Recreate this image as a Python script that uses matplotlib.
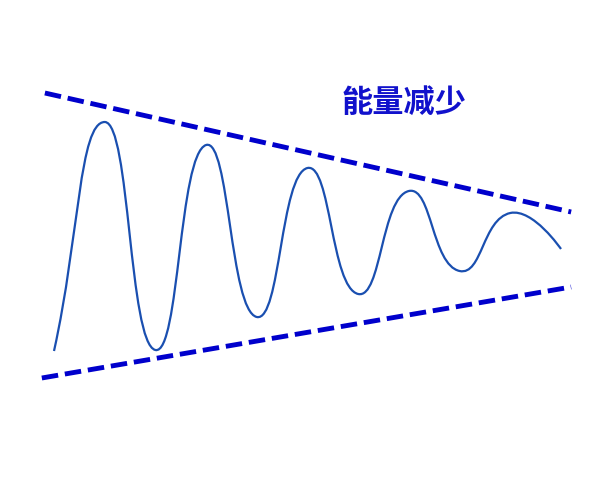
import numpy as np
import matplotlib
matplotlib.use('Agg')
import matplotlib.pyplot as plt
from matplotlib.path import Path
from matplotlib.patches import PathPatch
from matplotlib.transforms import IdentityTransform

plt.rcParams['font.family'] = ['Noto Sans CJK SC', 'DejaVu Sans']

# damped oscillation (arbitrary units)
t = [0, 1, 2, 3, 4, 5, 6, 7, 8, 9, 10]
disp = [-11.5, 11.4, -11.4, 9.1, -8.1, 6.8, -5.8, 4.5, -3.5, 2.3, -1.3]

# envelope lines (start, end)
upper_t = [-0.18, 10.2]
upper_y = [14.3, 2.4]
lower_t = [-0.24, 10.2]
lower_y = [-14.2, -5.1]

label = '能量减少'
label_pos = (6.9, 13.3)


def smooth_path(pts, smooth=0.5):
    # cubic bezier through the points, tangent from neighbours
    verts = [pts[0]]
    codes = [Path.MOVETO]
    n = len(pts)
    cp0 = None
    for i in range(n):
        p = pts[i]
        prev = p if i == 0 else pts[i - 1]
        if i == n - 1:
            v = np.zeros(2)
            ratio = 0.5
            next_cp = p
        else:
            nxt = pts[i + 1]
            v = nxt - prev
            lp = np.hypot(*(p - prev))
            ln = np.hypot(*(nxt - p))
            ratio = ln / (ln + lp)
            next_cp = p + v * smooth * ratio
        if i > 0:
            cp1 = p - v * smooth * (1 - ratio)
            verts += [cp0, cp1, p]
            codes += [Path.CURVE4] * 3
        cp0 = next_cp
    return Path(verts, codes)


fig = plt.figure(figsize=(6, 4.8), dpi=100)
ax = fig.add_axes([0, 0, 1, 1])
ax.set_xlim(-54 / 50.7, 546 / 50.7)
ax.set_ylim(-24.4, 23.6)
ax.axis('off')

pts = ax.transData.transform(np.column_stack([t, disp]))
curve = PathPatch(smooth_path(pts), transform=IdentityTransform(),
                  facecolor='none', edgecolor='#1a4fb0', linewidth=1.6,
                  capstyle='butt', joinstyle='round')
ax.add_patch(curve)

for xs, ys in [(upper_t, upper_y), (lower_t, lower_y)]:
    ax.plot(xs, ys, color='#0000CC', linewidth=3.5, linestyle=(0, (3.4, 1.4)),
            dash_capstyle='butt')

ax.text(label_pos[0], label_pos[1], label, fontsize=22.5, fontweight='bold',
        color='#1111CC', ha='center', va='center')

fig.savefig('out.png', dpi=100)
plt.close(fig)
